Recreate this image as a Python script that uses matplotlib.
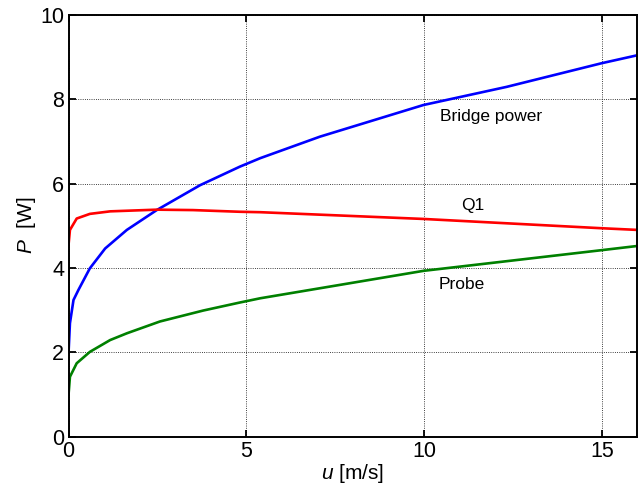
import numpy as np
import matplotlib
matplotlib.use('Agg')
import matplotlib.pyplot as plt

plt.rcParams['font.family'] = ['Liberation Sans', 'DejaVu Sans']
plt.rcParams['mathtext.fontset'] = 'custom'
plt.rcParams['mathtext.rm'] = 'Liberation Sans'
plt.rcParams['mathtext.it'] = 'Liberation Sans:italic'

# kurva daya terhadap kecepatan u
u_bridge = [0, 0.04, 0.14, 0.28, 0.6, 1.03, 1.64, 2.48, 3.7, 4.82, 5.39, 7.07, 9.98, 12.32, 14.99, 16.0]
p_bridge = [1.98, 2.69, 3.24, 3.48, 3.99, 4.46, 4.9, 5.37, 5.96, 6.4, 6.6, 7.11, 7.86, 8.29, 8.85, 9.04]

u_q1 = [0, 0.04, 0.23, 0.6, 1.17, 2.48, 3.5, 4.82, 5.39, 9.98, 14.99, 16.0]
p_q1 = [4.54, 4.9, 5.17, 5.28, 5.34, 5.38, 5.37, 5.33, 5.32, 5.16, 4.94, 4.9]

u_probe = [0, 0.04, 0.23, 0.6, 1.17, 1.64, 2.57, 3.79, 4.82, 5.39, 9.98, 14.99, 16.0]
p_probe = [0.99, 1.42, 1.74, 2.01, 2.29, 2.45, 2.73, 2.99, 3.18, 3.28, 3.93, 4.42, 4.52]

labels = ['Bridge power', 'Q1', 'Probe']
label_pos = [(10.45, 7.58), (11.05, 5.49), (10.4, 3.6)]

fig = plt.figure(figsize=(6.44, 4.87), dpi=100)
ax = fig.add_axes([0.1064, 0.1033, 0.8835, 0.8665])

ax.plot(u_bridge, p_bridge, c='#0000ff', lw=1.9)
ax.plot(u_q1, p_q1, c='#ff0000', lw=1.9)
ax.plot(u_probe, p_probe, c='#008000', lw=1.9)

for txt, (x, y) in zip(labels, label_pos):
    ax.text(x, y, txt, fontsize=12.5, va='center', ha='left')

ax.set_xlim(0, 16)
ax.set_ylim(0, 10)
ax.set_xticks([0, 5, 10, 15])
ax.set_yticks([0, 2, 4, 6, 8, 10])
ax.grid(True, color='k', ls=':', lw=0.6)
ax.tick_params(direction='in', top=True, right=True, length=5, width=1.3,
               labelsize=15.5, pad=3)
for s in ax.spines.values():
    s.set_linewidth(1.4)

ax.set_xlabel(r'$\it{u}$ [m/s]', fontsize=15, labelpad=0)
ax.set_ylabel(r'$\it{P}$  [W]', fontsize=15, labelpad=2)

fig.savefig('out.png', dpi=100)
